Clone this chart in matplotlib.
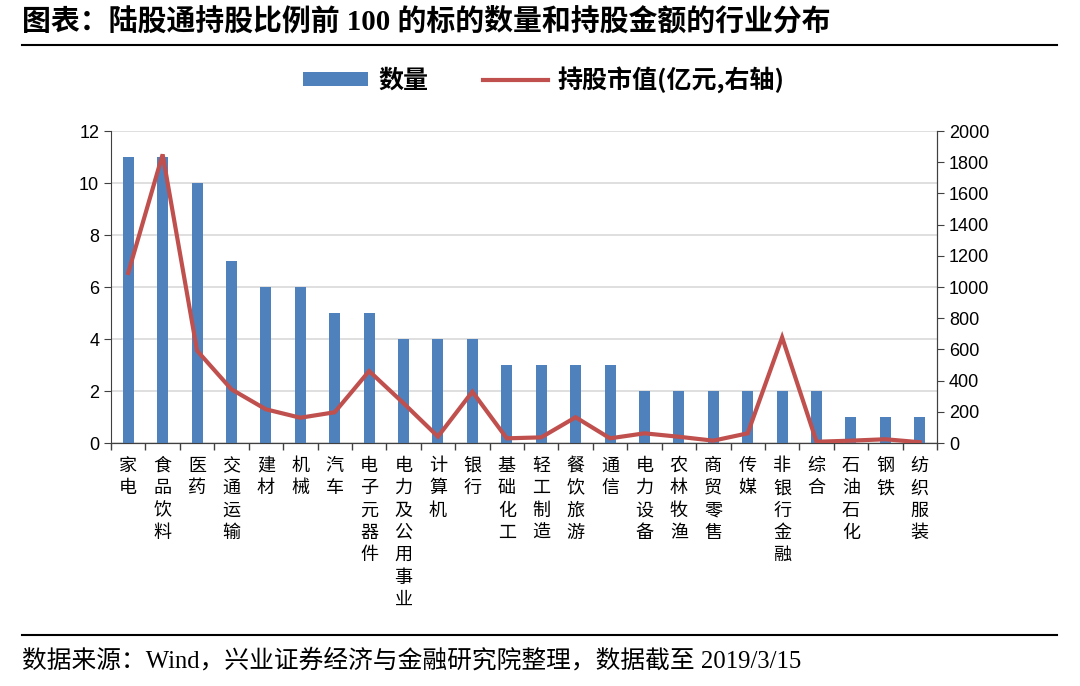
import matplotlib.pyplot as plt
import numpy as np

plt.rcParams['font.family'] = ['Liberation Sans', 'Noto Sans CJK SC']

# industries
categories = ["家电", "食品饮料", "医药", "交通运输", "建材", "机械", "汽车", "电子元器件",
              "电力及公用事业", "计算机", "银行", "基础化工", "轻工制造", "餐饮旅游", "通信",
              "电力设备", "农林牧渔", "商贸零售", "传媒", "非银行金融", "综合", "石油石化",
              "钢铁", "纺织服装"]
counts = [11, 11, 10, 7, 6, 6, 5, 5, 4, 4, 4, 3, 3, 3, 3, 2, 2, 2, 2, 2, 2, 1, 1, 1]
market_value = [1090, 1850, 592, 344, 216, 162, 197, 461, 255, 41, 329, 30, 36, 165, 30,
                62, 40, 15, 62, 677, 8, 15, 24, 5]

blue = "#4F81BD"
red = "#C0504D"
cjk = ['Liberation Serif', 'Noto Sans CJK SC']

fig = plt.figure(figsize=(10.8, 6.86), dpi=100)
ax = fig.add_axes([111/1080, 1 - 443/686, 826/1080, 312/686])
ax2 = ax.twinx()

x = np.arange(len(categories))
ax.bar(x, counts, width=0.32, color=blue, zorder=3, label="数量")
ax2.plot(x, market_value, color=red, lw=3, solid_joinstyle='miter', zorder=4,
         label="持股市值(亿元,右轴)")

ax.set_xlim(-0.5, len(categories) - 0.5)
ax.set_ylim(0, 12)
ax.set_yticks(range(0, 13, 2))
ax2.set_ylim(0, 2000)
ax2.set_yticks(range(0, 2001, 200))
ax.grid(axis='y', color='#d9d9d9', lw=1.2, zorder=0)
ax.set_axisbelow(True)

# vertical stacked labels
ax.set_xticks(x)
ax.set_xticklabels(["\n".join(c) for c in categories], fontsize=13,
                   family=['Noto Sans CJK SC'], va='top', linespacing=1.31)
ax.tick_params(axis='x', length=0, pad=10)
ax.set_xticks(np.arange(-0.5, len(categories)), minor=True)
ax.tick_params(axis='x', which='minor', length=5, width=1, color='#404040')
ax.tick_params(axis='y', labelsize=13, length=5, color='#404040')
ax2.tick_params(axis='y', labelsize=13, length=5, color='#404040')

for a in (ax, ax2):
    a.spines['top'].set_visible(False)
    for s in ('left', 'right', 'bottom'):
        a.spines[s].set_color('#404040')
ax2.spines['left'].set_visible(False)

# legend
h1, l1 = ax.get_legend_handles_labels()
h2, l2 = ax2.get_legend_handles_labels()
fig.legend(h1 + h2, l1 + l2, loc='center', bbox_to_anchor=(544/1080, 1 - 80/686), ncol=2,
           frameon=False, prop={'family': ['Noto Sans CJK SC'], 'size': 18, 'weight': 'bold'},
           handlelength=2.6, handleheight=0.5, columnspacing=2.2, handletextpad=0.4)

# title and rules
fig.text(22/1080, 1 - 21/686, "图表：陆股通持股比例前 100 的标的数量和持股金额的行业分布",
         fontsize=20.8, fontweight='bold', family=cjk, va='center', ha='left')
fig.add_artist(plt.Line2D([22/1080, 1057/1080], [1 - 45/686, 1 - 45/686], color='black', lw=1.5))
fig.add_artist(plt.Line2D([22/1080, 1057/1080], [1 - 635/686, 1 - 635/686], color='black', lw=1.5))
fig.text(22/1080, 1 - 661/686, "数据来源：Wind，兴业证券经济与金融研究院整理，数据截至 2019/3/15",
         fontsize=17.8, family=cjk, va='center', ha='left')

fig.savefig("out.png", dpi=100)
